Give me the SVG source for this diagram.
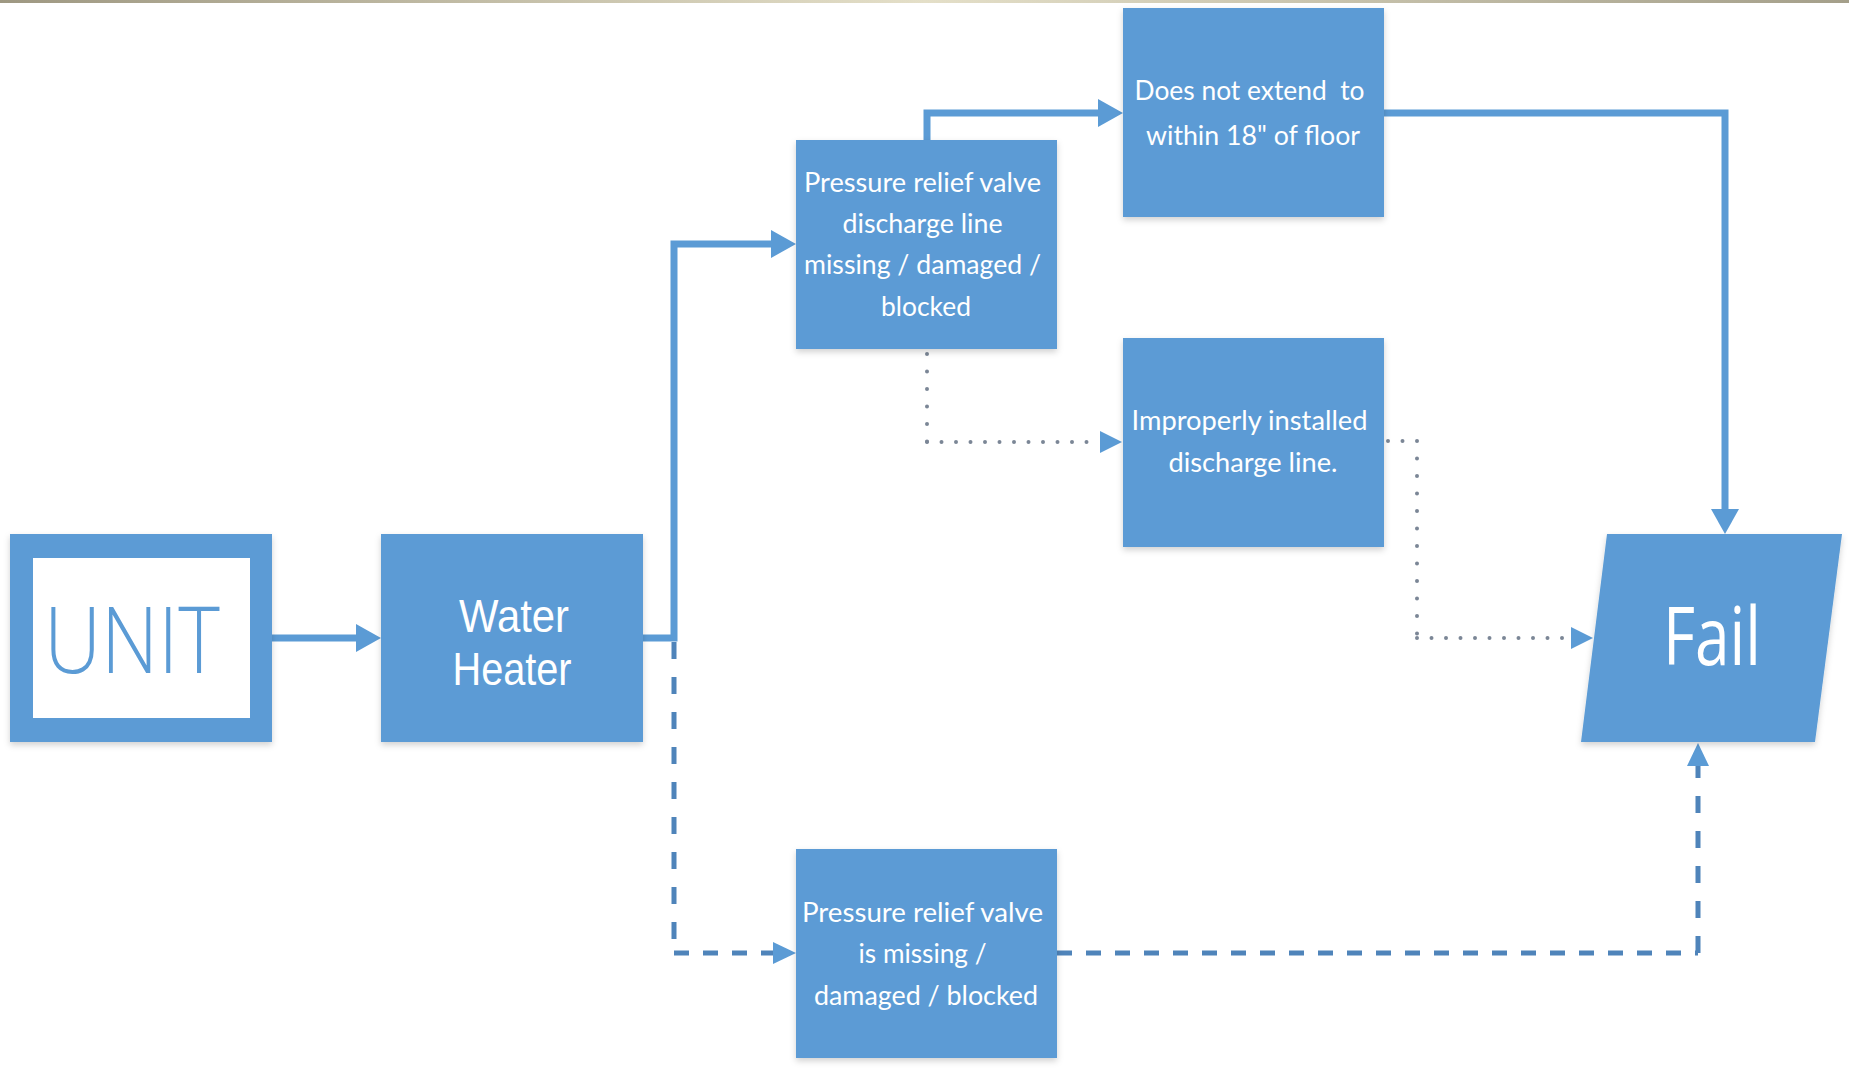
<svg xmlns="http://www.w3.org/2000/svg" width="1849" height="1069" viewBox="0 0 1849 1069">
  <defs>
    <linearGradient id="topBar" x1="0" y1="0" x2="1" y2="0">
      <stop offset="0" stop-color="#9e9882"/>
      <stop offset="0.5" stop-color="#e4dfc8"/>
      <stop offset="1" stop-color="#a49f8a"/>
    </linearGradient>
    <filter id="shadow" x="-10%" y="-10%" width="120%" height="125%">
      <feDropShadow dx="0" dy="3" stdDeviation="3" flood-color="#000" flood-opacity="0.18"/>
    </filter>
    <marker id="arrowSolid" markerUnits="userSpaceOnUse" markerWidth="26" markerHeight="28" refX="1" refY="14" orient="auto">
      <path d="M0,0 L25,14 L0,28 Z" fill="#5b9bd5"/>
    </marker>
    <marker id="arrowDash" markerUnits="userSpaceOnUse" markerWidth="24" markerHeight="24" refX="1" refY="11" orient="auto">
      <path d="M0,0 L23,11 L0,22 Z" fill="#5b9bd5"/>
    </marker>
    <marker id="arrowDot" markerUnits="userSpaceOnUse" markerWidth="23" markerHeight="24" refX="1" refY="11" orient="auto">
      <path d="M0,0 L22,11 L0,22 Z" fill="#5b9bd5"/>
    </marker>
  </defs>
  <style>
    .box { fill: #5b9bd5; filter: url(#shadow); }
    .label { fill: #ffffff; font-family: Lato, "Liberation Sans", sans-serif; font-size: 27px; text-anchor: middle; }
    .big { fill: #ffffff; font-family: "Open Sans", "Noto Sans", sans-serif; text-anchor: middle; }
    .solid { fill: none; stroke: #5b9bd5; stroke-width: 7; stroke-linejoin: miter; }
    .dashH { fill: none; stroke: #4f84ba; stroke-width: 5; stroke-dasharray: 15 14; }
    .dashV { fill: none; stroke: #4f84ba; stroke-width: 5; stroke-dasharray: 17 18; }
    .dotH { fill: none; stroke: #7b8696; stroke-width: 4; stroke-linecap: round; stroke-dasharray: 0 14.5; }
    .dotV { fill: none; stroke: #7b8696; stroke-width: 4; stroke-linecap: round; stroke-dasharray: 0 17.5; }
  </style>

  <rect x="0" y="0" width="1849" height="1069" fill="#ffffff"/>
  <rect x="0" y="0" width="1849" height="3" fill="url(#topBar)"/>

  <!-- connectors -->
  <g id="connectors">
    <path class="solid" d="M272,638 H357" marker-end="url(#arrowSolid)"/>
    <path class="solid" d="M643,638 H674 V244 H772" marker-end="url(#arrowSolid)"/>
    <path class="solid" d="M927,140 V113 H1099" marker-end="url(#arrowSolid)"/>
    <path class="solid" d="M1384,113 H1725 V510" marker-end="url(#arrowSolid)"/>

    <path class="dotV" d="M927,354 V442"/>
    <path class="dotH" d="M927,442 H1101" marker-end="url(#arrowDot)"/>
    <path class="dotH" d="M1388,441 H1417"/>
    <path class="dotV" d="M1417,441 V638"/>
    <path class="dotH" d="M1417,638 H1572" marker-end="url(#arrowDot)"/>

    <path class="dashV" d="M674,642 V953"/>
    <path class="dashH" d="M674,953 H774" marker-end="url(#arrowDash)"/>
    <path class="dashH" d="M1057,953 H1698"/>
    <path class="dashV" d="M1698,953 V765" marker-end="url(#arrowDash)"/>
  </g>

  <!-- nodes -->
  <g id="unit">
    <rect x="10" y="534" width="262" height="208" fill="#5b9bd5" filter="url(#shadow)"/>
    <rect x="33" y="558" width="217" height="160" fill="#ffffff"/>
    <text x="132" y="673" font-family="'Open Sans', 'Noto Sans', sans-serif" font-weight="300" font-size="92" fill="#5b9bd5" text-anchor="middle" textLength="176" lengthAdjust="spacingAndGlyphs">UNIT</text>
  </g>

  <g id="water-heater">
    <rect class="box" x="381" y="534" width="262" height="208"/>
    <text x="514" y="632" fill="#ffffff" font-family="'Liberation Sans', Arial, sans-serif" font-size="46" text-anchor="middle" textLength="110" lengthAdjust="spacingAndGlyphs">Water</text>
    <text x="512" y="685" fill="#ffffff" font-family="'Liberation Sans', Arial, sans-serif" font-size="46" text-anchor="middle" textLength="119" lengthAdjust="spacingAndGlyphs">Heater</text>
  </g>

  <g id="discharge-line">
    <rect class="box" x="796" y="140" width="261" height="209"/>
    <text class="label">
      <tspan x="926" y="192" textLength="237" lengthAdjust="spacingAndGlyphs">Pressure relief valve</tspan>
      <tspan x="926" y="233" textLength="160" lengthAdjust="spacingAndGlyphs">discharge line</tspan>
      <tspan x="926" y="274" textLength="237" lengthAdjust="spacingAndGlyphs">missing / damaged /</tspan>
      <tspan x="926" y="316" textLength="90" lengthAdjust="spacingAndGlyphs">blocked</tspan>
    </text>
  </g>

  <g id="not-extend">
    <rect class="box" x="1123" y="8" width="261" height="209"/>
    <text class="label">
      <tspan x="1253" y="100" textLength="230" lengthAdjust="spacingAndGlyphs" xml:space="preserve">Does not extend  to</tspan>
      <tspan x="1253" y="145" textLength="214" lengthAdjust="spacingAndGlyphs">within 18" of floor</tspan>
    </text>
  </g>

  <g id="improper-install">
    <rect class="box" x="1123" y="338" width="261" height="209"/>
    <text class="label">
      <tspan x="1253" y="430" textLength="236" lengthAdjust="spacingAndGlyphs">Improperly installed</tspan>
      <tspan x="1253" y="472" textLength="169" lengthAdjust="spacingAndGlyphs">discharge line.</tspan>
    </text>
  </g>

  <g id="valve-missing">
    <rect class="box" x="796" y="849" width="261" height="209"/>
    <text class="label">
      <tspan x="926" y="922" textLength="241" lengthAdjust="spacingAndGlyphs">Pressure relief valve</tspan>
      <tspan x="926" y="963" textLength="128" lengthAdjust="spacingAndGlyphs">is missing /</tspan>
      <tspan x="926" y="1005" textLength="224" lengthAdjust="spacingAndGlyphs">damaged / blocked</tspan>
    </text>
  </g>

  <g id="fail">
    <polygon class="box" points="1607,534 1842,534 1815,742 1581,742"/>
    <text class="big" x="1712" y="665" font-size="80" font-weight="400" textLength="98" lengthAdjust="spacingAndGlyphs">Fail</text>
  </g>
</svg>
